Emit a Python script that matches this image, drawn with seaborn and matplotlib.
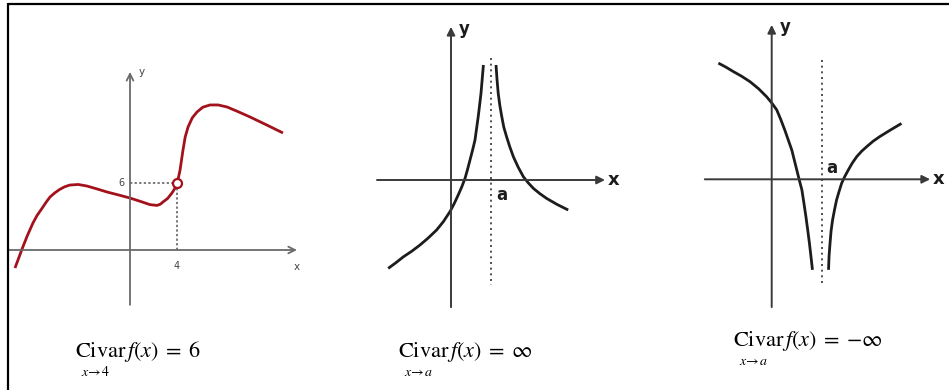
#!/usr/bin/env python3
"""Three limit sketches: finite limit with hole, +inf and -inf vertical asymptotes."""

import matplotlib

matplotlib.use("Agg")
import matplotlib.pyplot as plt
import pandas as pd
import seaborn as sns

W, H = 949, 390

# panel 1: finite limit, hole at (4, 6)
P1_X = [-9.79, -9.5, -9.22, -8.75, -8.26, -7.9, -7.5, -7.15, -6.81, -6.4, -6.0, -5.55, -5.11, -4.4,
        -3.66, -2.8, -1.96, -1.0, 0.0, 1.0, 1.70, 2.3, 2.6, 2.81, 3.2, 3.57, 3.82, 4.0, 4.13, 4.26,
        4.38, 4.51, 4.7, 4.94, 5.3, 5.70, 6.2, 6.81, 7.5, 8.26, 9.2, 10.21, 11.6, 13.02]
P1_Y = [-1.61, -0.8, 0.0, 1.25, 2.41, 3.1, 3.7, 4.25, 4.73, 5.1, 5.4, 5.65, 5.80, 5.85,
        5.71, 5.45, 5.18, 4.92, 4.64, 4.3, 4.05, 3.98, 4.1, 4.29, 4.6, 5.09, 5.5, 6.0, 6.5, 7.14,
        8.0, 8.93, 10.1, 10.98, 11.8, 12.32, 12.75, 12.95, 12.95, 12.77, 12.35, 11.88, 11.18, 10.45]
P1_HOLE = (4, 6)
P1_XAXIS = [-10.38, 14.21]
P1_YAXIS = [-4.9, 15.9]

# panel 2: limit +inf at x = a (a = 1)
P2_LEFT_X = [-1.57, -1.38, -1.19, -0.98, -0.775, -0.57, -0.36, -0.19, -0.025, 0.08, 0.18, 0.27,
             0.35, 0.415, 0.475, 0.54, 0.6, 0.64, 0.68, 0.715, 0.75, 0.78, 0.81]
P2_LEFT_Y = [-2.21, -2.07, -1.92, -1.78, -1.625, -1.45, -1.25, -1.04, -0.79, -0.59, -0.375, -0.17,
             0.04, 0.27, 0.5, 0.75, 1.0, 1.29, 1.58, 1.87, 2.17, 2.52, 2.875]
P2_RIGHT_X = [1.125, 1.15, 1.18, 1.22, 1.27, 1.32, 1.39, 1.47, 1.56, 1.68, 1.81, 1.93, 2.06,
              2.22, 2.39, 2.65, 2.93]
P2_RIGHT_Y = [2.875, 2.52, 2.17, 1.87, 1.58, 1.32, 1.08, 0.83, 0.58, 0.32, 0.08, -0.07, -0.21,
              -0.34, -0.46, -0.61, -0.75]
P2_XAXIS = [-1.85, 3.85]
P2_YAXIS = [-3.18, 3.83]
P2_ASYM = [3.05, -2.63]

# panel 3: limit -inf at x = a (a = 1)
P3_LEFT_X = [-1.06, -0.91, -0.76, -0.6, -0.43, -0.26, -0.10, 0.0, 0.10, 0.18, 0.26, 0.33, 0.40,
             0.45, 0.50, 0.55, 0.60, 0.64, 0.68, 0.715, 0.75, 0.78, 0.81]
P3_LEFT_Y = [2.31, 2.23, 2.14, 2.05, 1.94, 1.80, 1.64, 1.52, 1.38, 1.19, 0.98, 0.78, 0.58,
             0.38, 0.18, -0.02, -0.21, -0.47, -0.74, -1.0, -1.27, -1.53, -1.80]
P3_RIGHT_X = [1.13, 1.14, 1.16, 1.18, 1.21, 1.25, 1.29, 1.34, 1.39, 1.45, 1.52, 1.60, 1.69,
              1.79, 1.89, 2.02, 2.15, 2.36, 2.58]
P3_RIGHT_Y = [-1.80, -1.53, -1.27, -1.03, -0.81, -0.60, -0.41, -0.24, -0.08, 0.05, 0.18, 0.32, 0.45,
              0.56, 0.65, 0.76, 0.85, 0.98, 1.11]
P3_XAXIS = [-1.33, 3.15]
P3_YAXIS = [-2.54, 3.07]
P3_ASYM = [2.37, -2.10]

CAPTIONS = [r"$\mathrm{Civar}\,f\left(x\right)\;=\;6$",
            r"$\mathrm{Civar}\,f\left(x\right)\;=\;\infty$",
            r"$\mathrm{Civar}\,f\left(x\right)\;=\;{-}\infty$"]
SUBSCRIPTS = [r"$x\!\rightarrow\!4$", r"$x\!\rightarrow\!a$", r"$x\!\rightarrow\!a$"]

RED = "#a3121c"
INK = "#1c1c1c"


def overlay_axes(fig, ox, oy, sx, sy):
    # full-figure transparent axes whose data origin sits at pixel (ox, oy)
    ax = fig.add_axes([0, 0, 1, 1])
    ax.set_xlim((0 - ox) / sx, (W - ox) / sx)
    ax.set_ylim((oy - H) / sy, oy / sy)
    ax.set_axis_off()
    ax.patch.set_alpha(0)
    return ax


def draw_axes_arrows(ax, xaxis, yaxis, color, style, lw, ms):
    props = dict(arrowstyle=style, color=color, lw=lw, mutation_scale=ms, shrinkA=0, shrinkB=0)
    ax.annotate("", xy=(xaxis[1], 0), xytext=(xaxis[0], 0), arrowprops=props)
    ax.annotate("", xy=(0, yaxis[1]), xytext=(0, yaxis[0]), arrowprops=props)


def curve(ax, xs, ys, color, lw):
    df = pd.DataFrame({"x": xs, "y": ys})
    sns.lineplot(data=df, x="x", y="y", sort=False, estimator=None, color=color, lw=lw,
                 solid_joinstyle="round", solid_capstyle="butt", ax=ax)


def main():
    sns.set_theme(style="white")
    plt.rcParams["mathtext.fontset"] = "stix"
    fig = plt.figure(figsize=(W / 100, H / 100), dpi=100)

    # frame lines (top and left)
    fig.add_artist(plt.Line2D([8 / W, 1], [1 - 4 / H, 1 - 4 / H], color="black", lw=1.6, transform=fig.transFigure))
    fig.add_artist(plt.Line2D([8 / W, 8 / W], [0, 1 - 4 / H], color="black", lw=1.6, transform=fig.transFigure))

    # panel 1
    ax1 = overlay_axes(fig, 130, 250, 11.75, 11.2)
    draw_axes_arrows(ax1, P1_XAXIS, P1_YAXIS, "#6a6a6a", "->", 1.3, 12)
    hx, hy = P1_HOLE
    ax1.plot([0, hx], [hy, hy], color="#555555", lw=1.1, ls=(0, (1.5, 1.5)))
    ax1.plot([hx, hx], [0, hy], color="#555555", lw=1.1, ls=(0, (1.5, 1.5)))
    curve(ax1, P1_X, P1_Y, RED, 2.0)
    ax1.scatter([hx], [hy], s=42, facecolor="white", edgecolor=RED, linewidth=1.6, zorder=5)
    ax1.text(-0.5, hy, "6", ha="right", va="center", fontsize=7, color="#444444")
    ax1.text(hx, -1.0, "4", ha="center", va="top", fontsize=7, color="#444444")
    ax1.text(P1_XAXIS[1], -1.1, "x", ha="center", va="top", fontsize=7.5, color="#444444")
    ax1.text(0.7, P1_YAXIS[1], "y", ha="left", va="center", fontsize=7.5, color="#444444")

    # panel 2
    ax2 = overlay_axes(fig, 451, 180, 40, 40)
    draw_axes_arrows(ax2, P2_XAXIS, P2_YAXIS, "#3a3a3a", "-|>", 1.4, 12)
    ax2.plot([1, 1], P2_ASYM, color="#333333", lw=1.2, ls=(0, (1.2, 2.2)))
    curve(ax2, P2_LEFT_X, P2_LEFT_Y, INK, 2.0)
    curve(ax2, P2_RIGHT_X, P2_RIGHT_Y, INK, 2.0)
    ax2.text(1.12, -0.15, "a", ha="left", va="top", fontsize=12, fontweight="bold", color=INK)
    ax2.text(P2_XAXIS[1] + 0.08, 0, "x", ha="left", va="center", fontsize=13, fontweight="bold", color=INK)
    ax2.text(0.2, P2_YAXIS[1] - 0.05, "y", ha="left", va="center", fontsize=12, fontweight="bold", color=INK)

    # panel 3
    ax3 = overlay_axes(fig, 771.7, 179.3, 50.3, 50.3)
    draw_axes_arrows(ax3, P3_XAXIS, P3_YAXIS, "#3a3a3a", "-|>", 1.4, 12)
    ax3.plot([1, 1], P3_ASYM, color="#333333", lw=1.2, ls=(0, (1.2, 2.2)))
    curve(ax3, P3_LEFT_X, P3_LEFT_Y, INK, 2.0)
    curve(ax3, P3_RIGHT_X, P3_RIGHT_Y, INK, 2.0)
    ax3.text(1.08, 0.05, "a", ha="left", va="bottom", fontsize=12, fontweight="bold", color=INK)
    ax3.text(P3_XAXIS[1] + 0.06, 0, "x", ha="left", va="center", fontsize=13, fontweight="bold", color=INK)
    ax3.text(0.16, P3_YAXIS[1] - 0.04, "y", ha="left", va="center", fontsize=12, fontweight="bold", color=INK)

    # captions: baseline pixel of "Civar" and subscript centre below it
    cap_pos = [(75, 357), (398, 357), (733, 346)]
    for (px, py), cap, sub in zip(cap_pos, CAPTIONS, SUBSCRIPTS):
        fig.text(px / W, 1 - py / H, cap, ha="left", va="baseline", fontsize=16, color="black")
        fig.text((px + 6) / W, 1 - (py + 15) / H, sub, ha="left", va="center", fontsize=10, color="black")

    fig.savefig("out.png", dpi=100, facecolor="white")
    plt.close(fig)


if __name__ == "__main__":
    main()
